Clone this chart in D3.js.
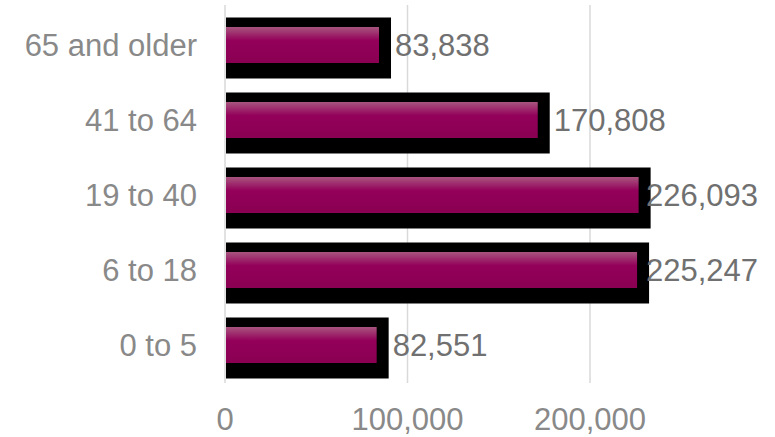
<!DOCTYPE html>
<html>
<head>
<meta charset="utf-8">
<script src="https://cdn.jsdelivr.net/npm/d3@7"></script>
<style>
    body { margin: 0; background: #fff; }
    svg { display: block; font-family: "Liberation Sans", Arial, sans-serif; }
</style>
</head>
<body>
<script>
(function(){

    //chart data
    var categories = ["65 and older", "41 to 64", "19 to 40", "6 to 18", "0 to 5"];
    var values = [83838, 170808, 226093, 225247, 82551];
    var tickValues = [0, 100000, 200000];

    var width = 775,
        height = 437;

    var svg = d3.select("body")
        .append("svg")
        .attr("width", width)
        .attr("height", height);

    //gradient for the bar fill
    var grad = svg.append("defs")
        .append("linearGradient")
        .attr("id", "barGrad")
        .attr("x1", 0).attr("y1", 0)
        .attr("x2", 0).attr("y2", 1);
    grad.append("stop").attr("offset", "0%").attr("stop-color", "#a8557f");
    grad.append("stop").attr("offset", "38%").attr("stop-color", "#93005a");
    grad.append("stop").attr("offset", "100%").attr("stop-color", "#8a0052");

    //scales
    var x = d3.scaleLinear()
        .domain([0, 100000])
        .range([225, 407.5]);

    var y = d3.scaleBand()
        .domain(categories)
        .range([7.5, 382.5])
        .paddingInner(0.52)
        .paddingOuter(0.26);

    //gridlines
    svg.selectAll(".grid")
        .data(tickValues)
        .enter()
        .append("line")
        .attr("class", "grid")
        .attr("x1", function(d){ return x(d); })
        .attr("x2", function(d){ return x(d); })
        .attr("y1", 5)
        .attr("y2", 383)
        .attr("stroke", "#d9d9d9")
        .attr("stroke-width", 1.5);

    //bar shadows
    svg.selectAll(".shadow")
        .data(values)
        .enter()
        .append("rect")
        .attr("class", "shadow")
        .attr("x", x(0) + 1)
        .attr("y", function(d, i){ return y(categories[i]) - 9.5; })
        .attr("width", function(d){ return x(d) - x(0) + 12; })
        .attr("height", y.bandwidth() + 25)
        .attr("fill", "#000");

    //bars
    svg.selectAll(".bar")
        .data(values)
        .enter()
        .append("rect")
        .attr("class", "bar")
        .attr("x", x(0) + 1)
        .attr("y", function(d, i){ return y(categories[i]); })
        .attr("width", function(d){ return x(d) - x(0); })
        .attr("height", y.bandwidth())
        .attr("fill", "url(#barGrad)");

    //value labels
    var labels = svg.selectAll(".valLabel")
        .data(values)
        .enter()
        .append("text")
        .attr("class", "valLabel")
        .attr("y", function(d, i){ return y(categories[i]) + y.bandwidth() / 2; })
        .attr("dy", "0.36em")
        .attr("font-size", 31)
        .attr("fill", "#707070")
        .text(function(d){ return d3.format(",")(d); });

    labels.attr("x", function(d){
        var w = this.getComputedTextLength();
        return Math.min(x(d) + 17, 758 - w);
    });

    //category labels
    svg.selectAll(".catLabel")
        .data(categories)
        .enter()
        .append("text")
        .attr("class", "catLabel")
        .attr("x", 197)
        .attr("y", function(d){ return y(d) + y.bandwidth() / 2; })
        .attr("dy", "0.36em")
        .attr("text-anchor", "end")
        .attr("font-size", 31)
        .attr("fill", "#898989")
        .text(function(d){ return d; });

    //x axis tick labels
    svg.selectAll(".tickLabel")
        .data(tickValues)
        .enter()
        .append("text")
        .attr("class", "tickLabel")
        .attr("x", function(d){ return x(d); })
        .attr("y", 430)
        .attr("text-anchor", "middle")
        .attr("font-size", 31)
        .attr("fill", "#898989")
        .text(function(d){ return d3.format(",")(d); });

})();
</script>
</body>
</html>
